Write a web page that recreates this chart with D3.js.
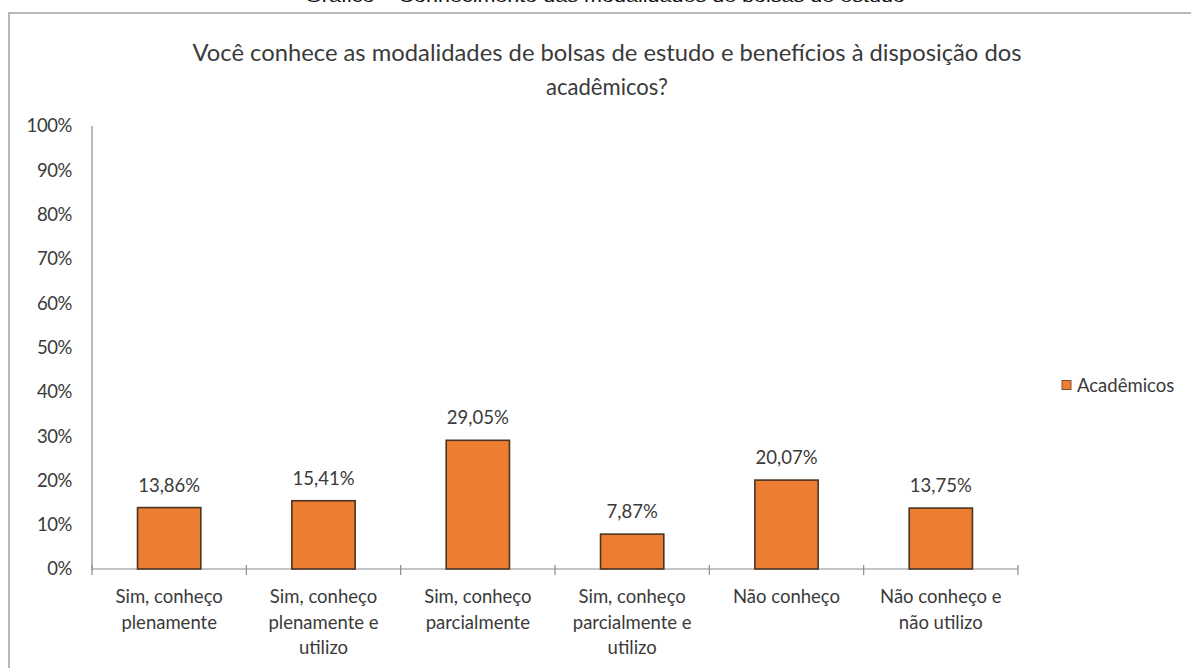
<!DOCTYPE html>
<html>
<head>
<meta charset="utf-8">
<script src="https://cdn.jsdelivr.net/npm/d3@7"></script>
<style>
  html, body { margin: 0; padding: 0; background: #fff; }
  svg { display: block; }
</style>
</head>
<body>
<svg id="chart" width="1191" height="668"></svg>
<script>
// Survey answers (share of students)
const categories = [
  ["Sim, conheço", "plenamente"],
  ["Sim, conheço", "plenamente e", "utilizo"],
  ["Sim, conheço", "parcialmente"],
  ["Sim, conheço", "parcialmente e", "utilizo"],
  ["Não conheço"],
  ["Não conheço e", "não utilizo"]
];
const values = [13.86, 15.41, 29.05, 7.87, 20.07, 13.75];
const valueLabels = ["13,86%", "15,41%", "29,05%", "7,87%", "20,07%", "13,75%"];
const yTicks = [0, 10, 20, 30, 40, 50, 60, 70, 80, 90, 100];
const seriesName = "Acadêmicos";
const caption = "Gráfico – Conhecimento das modalidades de bolsas de estudo";
const titleLines = [
  "Você conhece as modalidades de bolsas de estudo e benefícios à disposição dos",
  "acadêmicos?"
];

const svg = d3.select("#chart");
const font = "Lato, 'Open Sans', sans-serif";
const textColor = "#3a3a3a";
const labelSize = 18.5;

const plot = { left: 92, right: 1018, top: 126, bottom: 569 };

const x = d3.scaleBand()
  .domain(d3.range(values.length))
  .range([plot.left, plot.right])
  .paddingInner(0.59)
  .paddingOuter(0.295);

const y = d3.scaleLinear().domain([0, 100]).range([plot.bottom, plot.top]);

// Caption above the frame (runs off the page top)
svg.append("text")
  .attr("x", 605).attr("y", 2)
  .attr("text-anchor", "middle")
  .attr("font-family", "Arial, 'Liberation Sans', sans-serif")
  .attr("font-size", 17)
  .attr("textLength", 600).attr("lengthAdjust", "spacingAndGlyphs")
  .attr("fill", "#111")
  .text(caption);

// Chart frame
svg.append("path")
  .attr("d", "M9,672 L9,13 L1195,13")
  .attr("fill", "none")
  .attr("stroke", "#b8b8b8")
  .attr("stroke-width", 2);

// Title
const titleWidths = [829, 122];
svg.selectAll("text.title")
  .data(titleLines)
  .join("text")
  .attr("class", "title")
  .attr("x", 607)
  .attr("y", (d, i) => 61 + i * 34)
  .attr("text-anchor", "middle")
  .attr("font-family", font)
  .attr("font-size", 22.5)
  .attr("fill", textColor)
  .attr("textLength", (d, i) => titleWidths[i])
  .attr("lengthAdjust", "spacingAndGlyphs")
  .text(d => d);

// Y axis
const yAxis = svg.append("g")
  .attr("transform", `translate(${plot.left},0)`)
  .call(d3.axisLeft(y).tickValues(yTicks).tickSize(0).tickPadding(20)
    .tickFormat(d => d + "%"));
yAxis.select(".domain").attr("stroke", "#8c8c8c").attr("stroke-width", 1.2)
  .attr("d", `M0,${plot.top}V${plot.bottom + 1}`);
yAxis.selectAll("text")
  .attr("font-family", font)
  .attr("font-size", labelSize)
  .attr("fill", textColor)
  .attr("letter-spacing", -0.4);

// X axis line with boundary ticks
const xAxis = svg.append("g");
xAxis.append("line")
  .attr("x1", plot.left).attr("x2", plot.right)
  .attr("y1", plot.bottom).attr("y2", plot.bottom)
  .attr("stroke", "#8c8c8c").attr("stroke-width", 1.2);
const step = x.step();
const bounds = d3.range(values.length + 1).map(i => plot.left + i * step);
xAxis.selectAll("line.tick")
  .data(bounds)
  .join("line")
  .attr("class", "tick")
  .attr("x1", d => d).attr("x2", d => d)
  .attr("y1", plot.bottom - 4).attr("y2", plot.bottom + 6)
  .attr("stroke", "#8c8c8c").attr("stroke-width", 1.2);

// Category labels
const catG = svg.append("g");
categories.forEach((lines, i) => {
  const cx = x(i) + x.bandwidth() / 2;
  catG.selectAll(null)
    .data(lines)
    .join("text")
    .attr("x", cx)
    .attr("y", (d, j) => 603 + j * 25.5)
    .attr("text-anchor", "middle")
    .attr("font-family", font)
    .attr("font-size", labelSize)
    .attr("fill", textColor)
    .text(d => d);
});

// Bars
svg.append("g")
  .selectAll("rect")
  .data(values)
  .join("rect")
  .attr("x", (d, i) => x(i))
  .attr("y", d => y(d))
  .attr("width", x.bandwidth())
  .attr("height", d => y(0) - y(d))
  .attr("fill", "#ED7D31")
  .attr("stroke", "#4a3424")
  .attr("stroke-width", 1.6);

// Value labels
svg.append("g")
  .selectAll("text")
  .data(values)
  .join("text")
  .attr("x", (d, i) => x(i) + x.bandwidth() / 2)
  .attr("y", d => y(d) - 16)
  .attr("text-anchor", "middle")
  .attr("font-family", font)
  .attr("font-size", labelSize)
  .attr("fill", textColor)
  .text((d, i) => valueLabels[i]);

// Legend
const legend = svg.append("g").attr("transform", "translate(1062,385)");
legend.append("rect")
  .attr("x", 0).attr("y", -4.5)
  .attr("width", 9).attr("height", 9)
  .attr("fill", "#ED7D31")
  .attr("stroke", "#7a5030").attr("stroke-width", 1);
legend.append("text")
  .attr("x", 15).attr("y", 6.5)
  .attr("font-family", font)
  .attr("font-size", 18.5)
  .attr("fill", textColor)
  .text(seriesName);
</script>
</body>
</html>
